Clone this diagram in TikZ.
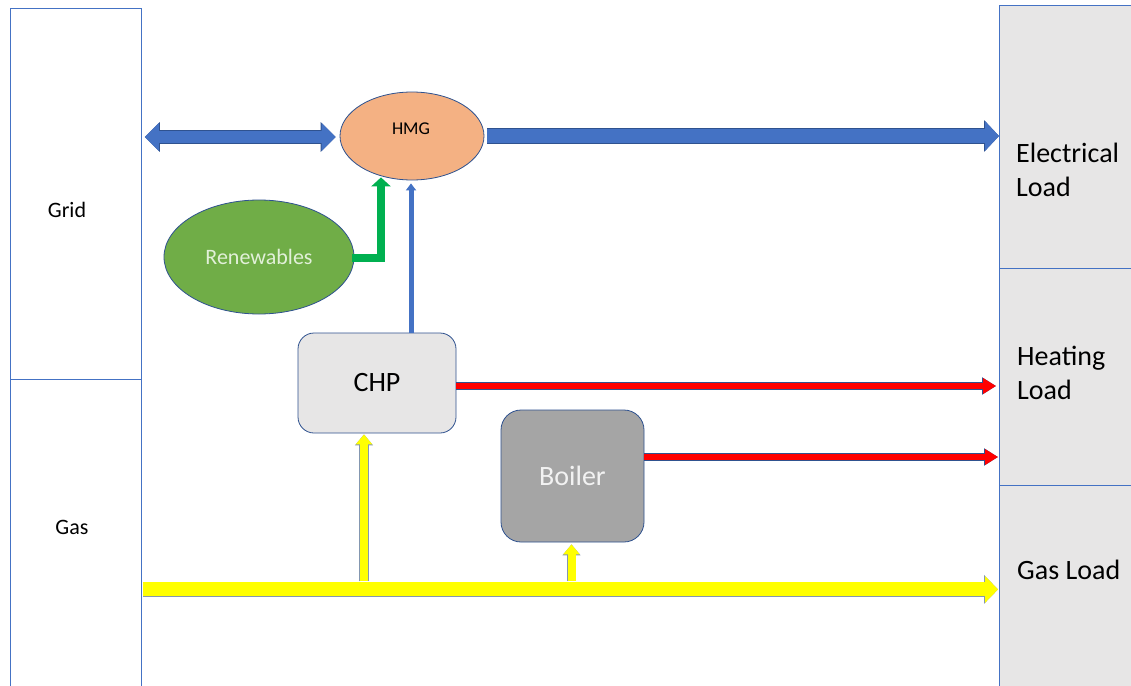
\documentclass[tikz,border=0pt]{standalone}
\usepackage{fontspec}
\setmainfont{Carlito}
\usetikzlibrary{arrows.meta,calc,shapes.geometric}

\definecolor{edge}{HTML}{2F528F}
\definecolor{frameblue}{HTML}{4472C4}
\definecolor{flowblue}{HTML}{4472C4}
\definecolor{hmgfill}{HTML}{F4B183}
\definecolor{renewfill}{HTML}{70AD47}
\definecolor{renewtext}{HTML}{E2F0D9}
\definecolor{panelfill}{HTML}{E7E6E6}
\definecolor{boilerfill}{HTML}{A5A5A5}
\definecolor{flowgreen}{HTML}{00B050}
\definecolor{flowred}{HTML}{FF0000}
\definecolor{flowyellow}{HTML}{FFFF00}
\definecolor{yellowedge}{HTML}{8497B0}

\begin{document}
\begin{tikzpicture}[x=1pt,y=-1pt,
  column/.style={draw=frameblue, line width=0.8pt, fill=white, anchor=north west,
    inner sep=0pt, minimum width=131pt},
  panel/.style={draw=frameblue, line width=0.8pt, fill=panelfill, anchor=north west,
    inner sep=0pt, minimum width=150pt},
  small/.style={font=\fontsize{22}{26}\selectfont, inner sep=0pt},
  big/.style={font=\fontsize{28}{34}\selectfont, align=left, anchor=west, inner sep=0pt},
  unit/.style={draw=edge, line width=0.8pt, rounded corners=16pt, inner sep=0pt},
  blueflow/.style={preaction={draw=edge, line width=15.5pt,
      -{Triangle[width=31pt,length=15pt]}},
    draw=flowblue, line width=14pt, -{Triangle[width=29pt,length=14pt]}},
  gridflow/.style={preaction={draw=edge, line width=13.5pt,
      {Triangle[width=29pt,length=15pt]}-{Triangle[width=29pt,length=15pt]}},
    draw=flowblue, line width=12pt,
    {Triangle[width=27pt,length=14pt]}-{Triangle[width=27pt,length=14pt]}},
  thinblue/.style={draw=flowblue, line width=5pt, -{Triangle[width=10pt,length=7pt]}},
  greenflow/.style={draw=flowgreen, line width=8pt, line join=miter,
    -{Triangle[width=19pt,length=9pt]}},
  redflow/.style={preaction={draw=edge, line width=8.2pt,
      -{Triangle[width=16.5pt,length=14pt]}},
    draw=flowred, line width=6.8pt, -{Triangle[width=15pt,length=13pt]}},
  gasflow/.style={preaction={draw=yellowedge, line width=15.5pt,
      -{Triangle[width=28pt,length=14pt]}},
    draw=flowyellow, line width=14pt, -{Triangle[width=26pt,length=13pt]}},
  gasfeed/.style={preaction={draw=yellowedge, line width=9.4pt,
      -{Triangle[width=17.5pt,length=11pt]}},
    draw=flowyellow, line width=8pt, -{Triangle[width=16pt,length=10pt]}},
]
\useasboundingbox (0,0) rectangle (1131,685);
\clip (0,0) rectangle (1131,685);
\fill[white] (0,0) rectangle (1131,685);

% supply side: grid and gas network
\node[column, minimum height=371pt] (grid) at (10,8) {};
\node[column, minimum height=320pt] (gas) at (10,379) {};
\node[small] (gridtext) at (67,210) {Grid};
\node[small] (gastext) at (72,527) {Gas};

% demand side: the three loads
\node[panel, minimum height=263pt] (elec) at (999,5) {};
\node[panel, minimum height=217pt] (heat) at (999,268) {};
\node[panel, minimum height=215pt] (gasload) at (999,485) {};
\node[big] (electext) at (1016,170) {Electrical\\Load};
\node[big] (heattext) at (1017,373) {Heating\\Load};
\node[big] (gasloadtext) at (1017,570) {Gas Load};

% conversion units
\node[ellipse, draw=edge, line width=0.8pt, fill=hmgfill, minimum width=144pt,
  minimum height=88pt, inner sep=0pt] (hmg) at (412,136) {};
\node[font=\fontsize{18}{22}\selectfont, inner sep=0pt] (hmgtext) at (411,129) {HMG};
\node[ellipse, draw=edge, line width=0.8pt, fill=renewfill, minimum width=190pt,
  minimum height=114pt, inner sep=0pt, text=renewtext,
  font=\fontsize{22}{26}\selectfont] (renew) at (259,257) {Renewables};
\node[unit, fill=panelfill, minimum width=158pt, minimum height=100pt,
  font=\fontsize{28}{34}\selectfont] (chp) at (377,383) {CHP};
\node[unit, fill=boilerfill, rounded corners=20pt, minimum width=143pt,
  minimum height=132pt, text=white!95!black,
  font=\fontsize{28}{34}\selectfont] (boiler) at (572.5,476) {Boiler};

% electricity flows
\draw[gridflow] ($(grid.north east |- hmg.west)+(3,1)$) -- ($(hmg.west)+(-4,1)$);
\draw[blueflow] ($(hmg.east)+(3,0)$) -- (hmg.east -| elec.west);
\draw[greenflow] ($(renew.east)+(-2,1)$) -| ($(hmg.south)+(-31,-3)$);
\draw[thinblue] ($(chp.north)+(34,0)$) -- ($(hmg.south)+(-1,3)$);

% heat flows
\draw[redflow] ($(chp.east)+(0,3)$) -- ($(chp.east -| heat.west)+(-3,3)$);
\draw[redflow] ($(boiler.east)+(0,-19)$) -- ($(boiler.east -| heat.west)+(-1,-19)$);

% gas flows
\draw[gasfeed] ($(chp.south)+(-13,148)$) -- ($(chp.south)+(-13,1)$);
\draw[gasfeed] ($(boiler.south)+(-1,39)$) -- ($(boiler.south)+(-1,2)$);
\draw[gasflow] ($(gas.east)+(1,50)$) -- ($(gas.east -| gasload.west)+(-1,50)$);
\end{tikzpicture}
\end{document}
